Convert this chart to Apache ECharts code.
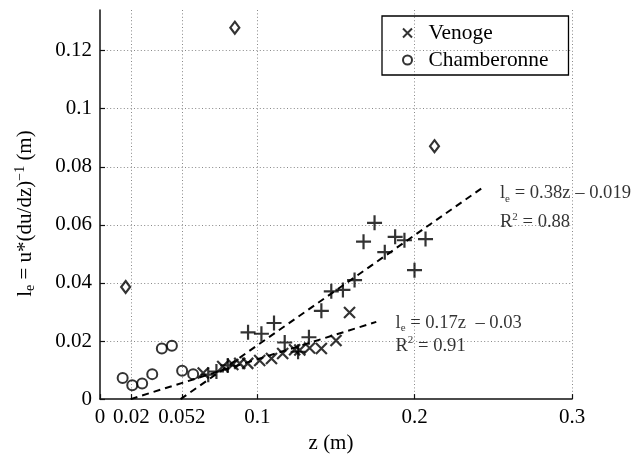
<!DOCTYPE html>
<html><head><meta charset="utf-8">
<script src="https://cdn.jsdelivr.net/npm/echarts@6/dist/echarts.min.js"></script>
<style>html,body{margin:0;padding:0;background:#fff}#c{width:643px;height:459px}</style>
</head><body><div id="c"></div>
<script>
const FONT = "'Liberation Serif', 'Times New Roman', serif";
const xTicks = [0, 0.02, 0.052, 0.1, 0.2, 0.3];
const yInterval = 0.02;
const yMax = 0.134;
const xMax = 0.3;

// Venoge (x markers)
const venogeZ  = [0.0656, 0.078, 0.0844, 0.0888, 0.0939, 0.1015, 0.109, 0.1161, 0.1237, 0.127, 0.1332, 0.1407, 0.150, 0.1586];
const venogeLe = [0.0090, 0.0112, 0.0119, 0.0123, 0.0123, 0.0133, 0.0140, 0.0157, 0.0170, 0.0169, 0.0176, 0.0174, 0.0202, 0.0298];
// Chamberonne (o markers)
const chamZ  = [0.0144, 0.0205, 0.0268, 0.0332, 0.0393, 0.0457, 0.0522, 0.0592];
const chamLe = [0.0073, 0.0048, 0.0054, 0.0086, 0.0174, 0.0184, 0.0098, 0.0086];
// + markers
const plusZ  = [0.0688, 0.074, 0.0812, 0.0941, 0.1026, 0.1106, 0.1174, 0.1259, 0.1328, 0.1407, 0.147, 0.1544, 0.1618, 0.1675, 0.1745, 0.181, 0.1876, 0.1935, 0.1999, 0.2069];
const plusLe = [0.0084, 0.0095, 0.0116, 0.0230, 0.0225, 0.0262, 0.0195, 0.0163, 0.0213, 0.0304, 0.0371, 0.0376, 0.0410, 0.0542, 0.0607, 0.0506, 0.0559, 0.0547, 0.0444, 0.0551];
// diamonds (outliers)
const diaZ  = [0.0163, 0.0857, 0.2126];
const diaLe = [0.0386, 0.1279, 0.0871];
// fit lines (end points)
const fitUpperZ  = [0.0512, 0.2447];
const fitUpperLe = [0.0, 0.0734];
const fitLowerZ  = [0.0195, 0.1756];
const fitLowerLe = [0.0, 0.0266];
// annotation anchors
const annZ  = [0.2542, 0.2542, 0.1878, 0.1878];
const annLe = [0.0709, 0.0608, 0.0262, 0.0183];
const annText = [
  '{a|l}{s|e}{a| = 0.38z – 0.019}',
  '{a|R}{p|2}{a| = 0.88}',
  '{a|l}{s|e}{a| = 0.17z  – 0.03}',
  '{a|R}{p|2}{a| = 0.91}'
];

const zip = (a, b) => a.map((v, i) => [v, b[i]]);

const crossPath = 'path://M0,0L10,10M10,0L0,10';
const plusPath = 'path://M5,0L5,10M0,5L10,5';
const diamondPath = 'path://M5,0L9,6L5,12L1,6Z';

const chart = echarts.init(document.getElementById('c'), null, {renderer: 'canvas'});
chart.setOption({
  animation: false,
  backgroundColor: '#fff',
  textStyle: {fontFamily: FONT, color: '#000'},
  grid: {left: 100, right: 71, top: 10, bottom: 51},
  legend: {
    show: true,
    data: ['Venoge', 'Chamberonne'],
    orient: 'vertical',
    left: 382, top: 16,
    padding: [5, 20, 3, 20],
    itemGap: 3,
    itemWidth: 32, itemHeight: 9,
    borderColor: '#000', borderWidth: 1.3,
    selectedMode: false,
    textStyle: {fontFamily: FONT, fontSize: 21.4, color: '#000', lineHeight: 24}
  },
  xAxis: {
    type: 'value', min: 0, max: xMax,
    name: 'z (m)', nameLocation: 'middle', nameGap: 30,
    nameTextStyle: {fontFamily: FONT, fontSize: 21, color: '#000', padding: [0, 10, 0, 0]},
    axisLine: {show: true, onZero: false, lineStyle: {color: '#111', width: 1.5}},
    axisTick: {show: true, inside: true, length: 5, customValues: xTicks, lineStyle: {color: '#111', width: 1.2}},
    axisLabel: {customValues: xTicks, fontFamily: FONT, fontSize: 21, color: '#000', margin: 8},
    splitLine: {show: true, showMinLine: false, lineStyle: {color: '#888', width: 1, type: [1, 2.4]}}
  },
  yAxis: {
    type: 'value', min: 0, max: yMax, interval: yInterval,
    name: '{a|l}{s|e}{a| = u*(du/dz)}{p|−1}{a| (m)}', nameLocation: 'middle', nameGap: 63,
    nameTextStyle: {
      fontFamily: FONT, fontSize: 21, color: '#000', padding: [0, 18, 0, 0],
      rich: {
        a: {fontFamily: FONT, fontSize: 21, color: '#000', lineHeight: 24},
        s: {fontFamily: FONT, fontSize: 14, color: '#000', lineHeight: 14, verticalAlign: 'bottom'},
        p: {fontFamily: FONT, fontSize: 14, color: '#000', lineHeight: 14, verticalAlign: 'top'}
      }
    },
    axisLine: {show: true, onZero: false, lineStyle: {color: '#111', width: 1.5}},
    axisTick: {show: true, inside: true, length: 5, lineStyle: {color: '#111', width: 1.2}},
    axisLabel: {fontFamily: FONT, fontSize: 21, color: '#000', margin: 8, showMaxLabel: false},
    splitLine: {show: true, showMinLine: false, showMaxLine: false, lineStyle: {color: '#888', width: 1, type: [1, 2.4]}}
  },
  series: [
    {
      name: 'fitUpper', type: 'line', data: zip(fitUpperZ, fitUpperLe), symbol: 'none', silent: true,
      lineStyle: {color: '#000', width: 2, type: [7, 5]}, z: 1
    },
    {
      name: 'fitLower', type: 'line', data: zip(fitLowerZ, fitLowerLe), symbol: 'none', silent: true,
      lineStyle: {color: '#000', width: 2, type: [7, 5]}, z: 1
    },
    {
      name: 'Venoge', type: 'scatter', data: zip(venogeZ, venogeLe),
      symbol: crossPath, symbolSize: 11, symbolKeepAspect: true,
      itemStyle: {color: 'transparent', borderColor: '#000', borderWidth: 2.2}, z: 3
    },
    {
      name: 'Chamberonne', type: 'scatter', data: zip(chamZ, chamLe),
      symbol: 'circle', symbolSize: 10, symbolKeepAspect: true,
      itemStyle: {color: 'transparent', borderColor: '#000', borderWidth: 2}, z: 3
    },
    {
      name: 'plus', type: 'scatter', data: zip(plusZ, plusLe),
      symbol: plusPath, symbolSize: 15,
      itemStyle: {color: 'transparent', borderColor: '#000', borderWidth: 2.2}, z: 3
    },
    {
      name: 'outliers', type: 'scatter', data: zip(diaZ, diaLe),
      symbol: diamondPath, symbolSize: [9, 12],
      itemStyle: {color: 'transparent', borderColor: '#000', borderWidth: 2.2}, z: 3
    },
    {
      name: 'annotations', type: 'scatter', data: zip(annZ, annLe),
      symbol: 'circle', symbolSize: 0, silent: true,
      itemStyle: {color: 'transparent'},
      label: {
        show: true, position: [0, 0], align: 'left', verticalAlign: 'middle',
        formatter: p => annText[p.dataIndex],
        rich: {
          a: {fontFamily: FONT, fontSize: 18.6, color: '#000', lineHeight: 22},
          s: {fontFamily: FONT, fontSize: 11, color: '#000', lineHeight: 10, verticalAlign: 'bottom'},
          p: {fontFamily: FONT, fontSize: 11, color: '#000', lineHeight: 11, verticalAlign: 'top'}
        }
      }, z: 4
    }
  ]
});
</script></body></html>
